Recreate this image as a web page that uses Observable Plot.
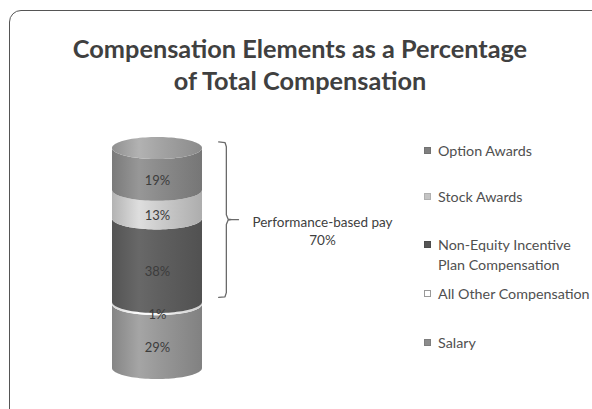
<!DOCTYPE html>
<html>
<head>
<meta charset="utf-8">
<script src="https://cdn.jsdelivr.net/npm/d3@7"></script>
<script src="https://cdn.jsdelivr.net/npm/@observablehq/plot@0.6"></script>
<style>
  html, body { margin: 0; padding: 0; background: #fff; }
  #wrap { position: relative; width: 592px; height: 409px; overflow: hidden; font-family: Lato, "Open Sans", sans-serif; }
  #frame { position: absolute; left: 9px; top: 10px; width: 620px; height: 440px; border: 1.5px solid #555; border-radius: 12px; box-sizing: border-box; }
  #title { position: absolute; left: 0; top: 32px; width: 600px; text-align: center; font-weight: 700; font-size: 25.3px; line-height: 32px; color: #404040; }
  #chart { position: absolute; left: 0; top: 0; }
  .leg { position: absolute; left: 424px; font-size: 14.3px; line-height: 20px; color: #505050; }
  .leg .sw { position: absolute; left: 0; top: 6px; width: 7px; height: 7px; box-sizing: border-box; }
  .leg .tx { margin-left: 14px; white-space: nowrap; }
</style>
</head>
<body>
<div id="wrap">
  <div id="frame"></div>
  <div id="title">Compensation Elements as a Percentage<br>of Total Compensation</div>
  <div id="chart"></div>
</div>
<script>
// Data (bottom to top of the stack)
const categories = ["Salary", "All Other Compensation", "Non-Equity Incentive Plan Compensation", "Stock Awards", "Option Awards"];
const values = [29, 1, 38, 13, 19];
const labels = ["29%", "1%", "38%", "13%", "19%"];
const segmentColors = ["#979797", "#f2f2f2", "#5f5f5f", "#cbcbcb", "#8a8a8a"];
const legendOrder = ["Option Awards", "Stock Awards", "Non-Equity Incentive\nPlan Compensation", "All Other Compensation", "Salary"];
const legendColors = ["#7f7f7f", "#c4c4c4", "#555555", "#ffffff", "#8c8c8c"];
const legendTops = [141, 187, 235, 284, 333];
const performanceLabel = "Performance-based pay";
const performanceValue = "70%";
const capColor = "#a3a3a3";

// geometry
const ry = 5; // ellipse half-height in y units
const N = 48;
let acc = 0;
const segs = values.map((v, i) => {
  const y0 = acc; acc += v; const y1 = acc;
  const pts = d3.range(N + 1).map(k => {
    const a = Math.PI - Math.PI * k / N;
    return {x: Math.cos(a), y1: y0 - ry * Math.sin(a), y2: y1 - ry * Math.sin(a)};
  });
  return {i, y0, y1, mid: (y0 + y1) / 2, pts, label: labels[i]};
});
const total = acc;
const cap = d3.range(N + 1).map(k => {
  const a = Math.PI - Math.PI * k / N;
  return {x: Math.cos(a), y1: total - ry * Math.sin(a), y2: total + ry * Math.sin(a)};
});
// performance-based bracket spans everything above salary + other
const perfStart = values[0] + values[1];
const bTop = total + ry * 0.6, bBot = perfStart + 2.3, bMid = (bTop + bBot) / 2;
const bx = 1.53, bx0 = 1.36, bx2 = 1.8, d = 2.2;
const brace = [
  {x: bx0, y: bTop}, {x: bx - 0.03, y: bTop - 0.3}, {x: bx, y: bTop - d},
  {x: bx, y: bMid + d}, {x: bx + 0.04, y: bMid + 0.2}, {x: bx + 0.12, y: bMid}, {x: bx2, y: bMid - 0.01},
  {x: bx + 0.12, y: bMid - 0.02}, {x: bx + 0.04, y: bMid - 0.2}, {x: bx, y: bMid - d},
  {x: bx, y: bBot + d}, {x: bx - 0.03, y: bBot + 0.3}, {x: bx0, y: bBot}
];

const marks = [];
segs.forEach(s => {
  marks.push(Plot.areaY(s.pts, {x: "x", y1: "y1", y2: "y2", fill: `url(#seg${s.i})`, curve: "linear"}));
});
marks.push(Plot.areaY(cap, {x: "x", y1: "y1", y2: "y2", fill: "url(#capg)", curve: "linear"}));
marks.push(Plot.text(segs, {x: 0, y: "mid", text: "label", dy: 11, fontSize: 13, fill: "#3c3c3c", fontFamily: "Lato, sans-serif"}));
marks.push(Plot.line(brace, {x: "x", y: "y", stroke: "#6a6a6a", strokeWidth: 1.3, curve: "linear"}));
marks.push(Plot.text([{x: bx2, y: bMid}], {x: "x", y: "y", text: () => performanceLabel + "\n" + performanceValue, dx: 84, dy: 11, lineHeight: 1.33, textAnchor: "middle", fontSize: 13.5, fill: "#404040", fontFamily: "Lato, sans-serif"}));

const svg = Plot.plot({
  width: 592, height: 409,
  marginTop: 0, marginRight: 0, marginBottom: 0, marginLeft: 0,
  x: {domain: [-1, 1], range: [112, 202], axis: null},
  y: {domain: [0, 100], range: [368, 148], axis: null},
  style: {background: "transparent", overflow: "visible"},
  marks
});

// gradients
const defs = d3.select(svg).insert("defs", ":first-child");
function grad(id, base) {
  const c = d3.color(base);
  const g = defs.append("linearGradient").attr("id", id).attr("x1", 0).attr("x2", 1).attr("y1", 0).attr("y2", 0);
  g.append("stop").attr("offset", "0%").attr("stop-color", c.darker(0.35).formatHex());
  g.append("stop").attr("offset", "30%").attr("stop-color", c.brighter(0.25).formatHex());
  g.append("stop").attr("offset", "55%").attr("stop-color", c.formatHex());
  g.append("stop").attr("offset", "100%").attr("stop-color", c.darker(0.45).formatHex());
}
segmentColors.forEach((c, i) => grad("seg" + i, c));
grad("capg", capColor);
document.getElementById("chart").appendChild(svg);

// legend
const wrap = document.getElementById("wrap");
legendOrder.forEach((name, i) => {
  const div = document.createElement("div");
  div.className = "leg";
  div.style.top = legendTops[i] + "px";
  const sw = document.createElement("div");
  sw.className = "sw";
  sw.style.background = legendColors[i];
  sw.style.border = "1px solid " + (legendColors[i] === "#ffffff" ? "#999" : d3.color(legendColors[i]).darker(0.3).formatHex());
  const tx = document.createElement("div");
  tx.className = "tx";
  tx.innerHTML = name.replace("\n", "<br>");
  div.appendChild(sw); div.appendChild(tx);
  wrap.appendChild(div);
});
</script>
</body>
</html>
